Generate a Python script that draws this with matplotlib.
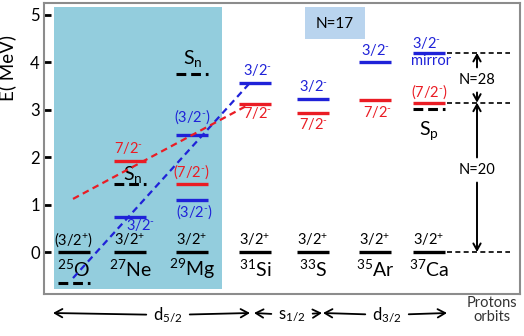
import numpy as np
import matplotlib
matplotlib.use("Agg")
import matplotlib.pyplot as plt
from matplotlib.patches import Rectangle

plt.rcParams['font.family'] = ['Lato', 'DejaVu Sans']
plt.rcParams['mathtext.fontset'] = 'custom'
plt.rcParams['mathtext.rm'] = 'Lato'
plt.rcParams['mathtext.it'] = 'Lato:italic'
plt.rcParams['mathtext.bf'] = 'Lato:bold'

M = r'$^{\text{-}}$'
P = r'$^{+}$'

# nuclei (N=17 isotones)
nuclei = [r'$^{25}$O', r'$^{27}$Ne', r'$^{29}$Mg', r'$^{31}$Si', r'$^{33}$S', r'$^{35}$Ar', r'$^{37}$Ca']
gs_labels = ['(3/2' + P + ')', '3/2' + P, '3/2' + P, '3/2' + P, '3/2' + P, '3/2' + P, '3/2' + P]

# 3/2- levels (blue)
blue_idx = [1, 2, 2, 3, 4, 5, 6]
blue_E = [0.74, 1.10, 2.47, 3.57, 3.23, 4.00, 4.20]
blue_lbl = ['3/2' + M, '(3/2' + M + ')', '(3/2' + M + ')', '3/2' + M, '3/2' + M, '3/2' + M, '3/2' + M]

# 7/2- levels (red)
red_idx = [1, 2, 3, 4, 5, 6]
red_E = [1.92, 1.43, 3.12, 2.94, 3.20, 3.15]
red_lbl = ['7/2' + M, '(7/2' + M + ')', '7/2' + M, '7/2' + M, '7/2' + M, '(7/2' + M + ')']

# separation energies (black dashed)
sep_idx = [0, 1, 2, 6]
sep_E = [-0.65, 1.43, 3.75, 3.02]
sep_lbl = ['', r'S$_{\mathrm{n}}$', r'S$_{\mathrm{n}}$', r'S$_{\mathrm{p}}$']

# trend lines (start, end)
blue_trend_E = [-0.55, 3.57]
red_trend_E = [1.12, 3.10]

# gaps in 37Ca
gap_E = [0.0, 3.15, 4.20]

# ---- layout ----
xpos = [74, 130, 192, 255, 313, 375, 429]   # x in pixel units
hw = 16
PX = 47.4  # pixels per MeV

blue_off = [(10, -8), (3, -12), (1, 18), (2, 13), (0, 13), (0, 12), (-3, 10)]
red_off = [(-2, 13), (0, 12), (2, -9), (0, -11), (2, -12), (1, 11)]
sep_off = [(0, 0), (3, 10), (1, 16), (0, -22)]

BLUE = '#1f22d8'
RED = '#ea1c24'

fig = plt.figure(figsize=(5.24, 3.36), dpi=100)
ax = fig.add_axes([44 / 524, 1 - 294 / 336, 476 / 524, 291 / 336])
ax.set_xlim(44, 520)
ax.set_ylim(-0.886, 5.253)

ax.add_patch(Rectangle((54, -0.78), 168, 5.95, color='#93cddd', zorder=0, lw=0))
ax.add_patch(Rectangle((305, 4.49), 60, 0.68, color='#b9d4ee', zorder=0, lw=0))
ax.text(335, 4.82, 'N=17', ha='center', va='center', fontsize=11)


def lab(x, e, txt, col, off, size=10):
    ax.text(x + off[0], e + off[1] / PX, txt, color=col, ha='center', va='center', fontsize=size)


for i, x in enumerate(xpos):
    ax.plot([x - hw, x + hw], [0, 0], color='black', lw=2.4, solid_capstyle='butt', zorder=3)
    lab(x, 0, gs_labels[i], 'black', (0, 12), 10.5)
    lab(x, 0, nuclei[i], 'black', (0, -17), 14)

for k, (i, e) in enumerate(zip(blue_idx, blue_E)):
    ax.plot([xpos[i] - hw, xpos[i] + hw], [e, e], color=BLUE, lw=2.4, solid_capstyle='butt', zorder=3)
    lab(xpos[i], e, blue_lbl[k], BLUE, blue_off[k], 10.5)
lab(xpos[6], 4.20, 'mirror', BLUE, (2, -8), 10.5)

for k, (i, e) in enumerate(zip(red_idx, red_E)):
    ax.plot([xpos[i] - hw, xpos[i] + hw], [e, e], color=RED, lw=2.4, solid_capstyle='butt', zorder=3)
    lab(xpos[i], e, red_lbl[k], RED, red_off[k], 10.5)

for k, (i, e) in enumerate(zip(sep_idx, sep_E)):
    ax.plot([xpos[i] - hw, xpos[i] + hw], [e, e], color='black', lw=2.2, ls=(0, (3.2, 1.6)), zorder=3)
    if sep_lbl[k]:
        lab(xpos[i], e, sep_lbl[k], 'black', sep_off[k], 14)

# trend lines
ax.plot([73, 250], blue_trend_E, color=BLUE, lw=1.6, ls=(0, (3, 2)), zorder=4)
ax.plot([73, 248], red_trend_E, color=RED, lw=1.6, ls=(0, (3, 2)), zorder=4)

# gap lines and arrows
for e in gap_E:
    ax.plot([447, 510], [e, e], color='black', lw=1.2, ls=(0, (3, 2)), zorder=2)

xa = 477
arrow = dict(arrowstyle='->,head_length=0.45,head_width=0.25', color='black', lw=1.4, shrinkA=2, shrinkB=0)
for txt, lo, hi, mid in [('N=28', gap_E[1], gap_E[2], 3.63), ('N=20', gap_E[0], gap_E[1], 1.73)]:
    ax.annotate(txt, xy=(xa, hi), xytext=(xa, mid), ha='center', va='center', fontsize=10.5,
                arrowprops=arrow)
    ax.annotate(txt, xy=(xa, lo), xytext=(xa, mid), ha='center', va='center', fontsize=10.5,
                color='none', arrowprops=arrow)

# axes style
for s in ax.spines.values():
    s.set_color('#8c8c8c')
    s.set_linewidth(1.5)
ax.set_xticks([])
ax.set_yticks([0, 1, 2, 3, 4, 5])
ax.tick_params(axis='y', direction='in', length=5, width=2, labelsize=12, pad=3)
ax.set_ylabel('E( MeV)', fontsize=13.5)
ax.yaxis.set_label_coords(-0.058, 0.777)

# proton orbit arrows below the frame
yb = 336 - 313
harrow = dict(arrowstyle='->,head_length=0.45,head_width=0.25', color='black', lw=1.3, shrinkA=3, shrinkB=0)
for txt, xc, xl, xr in [(r'd$_{5/2}$', 168, 53, 250), (r's$_{1/2}$', 292, 254, 322), (r'd$_{3/2}$', 387, 323, 447)]:
    ax.annotate(txt, xy=(xl, yb), xytext=(xc, yb - 2), xycoords='figure pixels', textcoords='figure pixels',
                ha='center', va='center', fontsize=12, arrowprops=harrow, annotation_clip=False)
    ax.annotate(txt, xy=(xr, yb), xytext=(xc, yb - 2), xycoords='figure pixels', textcoords='figure pixels',
                ha='center', va='center', fontsize=12, color='none', arrowprops=harrow, annotation_clip=False)
fig.text(492 / 524, 1 - 310 / 336, 'Protons\norbits', ha='center', va='center', fontsize=10.5,
         color='#333333', linespacing=1.0)

fig.savefig('out.png', dpi=100)
